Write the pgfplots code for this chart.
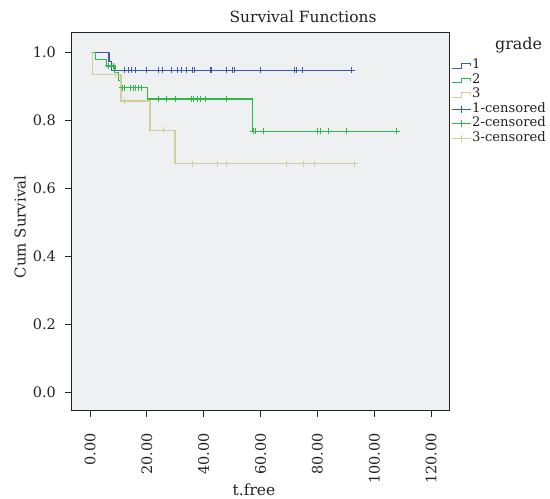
\documentclass[border=0pt]{standalone}
\usepackage{pgfplots}
\pgfplotsset{compat=1.18}
\usepackage{fontspec}
\setmainfont{DejaVu Serif}
\definecolor{c1}{HTML}{3E58AC}
\definecolor{c2}{HTML}{2EB848}
\definecolor{c3}{HTML}{D3CE97}
\definecolor{bg}{HTML}{EFF0F2}
\definecolor{ink}{HTML}{222222}
\begin{document}
\begin{tikzpicture}[x=1bp,y=1bp]
\begin{axis}[
  at={(71bp,88bp)}, anchor=south west,
  scale only axis, width=378bp, height=378bp,
  clip mode=individual,
  xmin=-6.69, xmax=126.3, ymin=-0.055, ymax=1.057,
  xtick={0,20,40,60,80,100,120},
  ytick={0,0.2,0.4,0.6,0.8,1.0},
  tick pos=left, tick align=outside, major tick length=6bp,
  every tick/.style={ink, line width=0.8bp},
  axis line style={ink, line width=1bp},
  axis background/.style={fill=bg},
  /pgf/number format/assume math mode=true,
  xticklabel style={/pgf/number format/.cd, fixed, fixed zerofill, precision=2, /tikz/.cd, rotate=90, anchor=east, inner sep=0bp, font=\fontsize{14.5}{16}\selectfont, text=ink, xshift=-16bp},
  yticklabel style={/pgf/number format/.cd, fixed, fixed zerofill, precision=1, /tikz/.cd, font=\fontsize{14.5}{16}\selectfont, text=ink, inner sep=0bp, xshift=-9bp},
  title={Survival Functions},
  title style={at={(axis description cs:0.614,1)}, anchor=base, yshift=5bp, font=\fontsize{15.5}{17}\selectfont, text=ink},
  xlabel={t.free},
  xlabel style={at={(axis description cs:0.484,0)}, anchor=center, yshift=-79bp, font=\fontsize{15.5}{17}\selectfont, text=ink},
  ylabel={Cum Survival},
  ylabel style={at={(axis description cs:-0.135,0.487)}, anchor=center, font=\fontsize{15}{17}\selectfont, text=ink},
  legend style={at={(axis description cs:1.005,0.93)}, anchor=north west, draw=none, fill=none, inner sep=0bp,
    font=\fontsize{13.2}{15}\selectfont, text=ink, row sep=2.5bp,
    nodes={inner sep=1bp, text height=8bp, text depth=2bp}},
  legend cell align=left,
]
% grade 1
\addplot[c1, line width=1.2bp, const plot, forget plot] coordinates {(0,1.0) (6.7,0.973) (7.6,0.947) (93.0,0.947)};
% grade 2
\addplot[c2, line width=1.2bp, const plot, forget plot] coordinates {(0,1.0) (1.8,0.980) (5.9,0.960) (8.8,0.940) (10.0,0.918) (11.1,0.896) (20.2,0.863) (57.2,0.768) (108.9,0.768)};
% grade 3
\addplot[c3, line width=1.2bp, const plot, forget plot] coordinates {(0,1.0) (0.8,0.935) (10.9,0.857) (21.1,0.771) (29.9,0.673) (93.9,0.673)};
% censored
\addplot[c1, only marks, mark=+, mark size=3bp, mark options={line width=1bp}, forget plot] coordinates {
 (12.3,0.947) (13.7,0.947) (14.7,0.947) (16.1,0.947) (20.0,0.947) (24.0,0.947) (25.5,0.947) (28.8,0.947)
 (30.9,0.947) (32.3,0.947) (34.0,0.947) (36.1,0.947) (36.6,0.947) (42.3,0.947) (42.8,0.947) (48.0,0.947)
 (50.1,0.947) (50.8,0.947) (60.1,0.947) (71.9,0.947) (72.8,0.947) (74.9,0.947) (92.1,0.947)};
\addplot[c2, only marks, mark=+, mark size=3bp, mark options={line width=1bp}, forget plot] coordinates {
 (6.4,0.960) (8.2,0.960)
 (11.4,0.896) (12.3,0.896) (14.1,0.896) (15.2,0.896) (16.1,0.896) (17.0,0.896) (18.0,0.896)
 (24.0,0.863) (27.0,0.863) (29.9,0.863) (35.8,0.863) (36.4,0.863) (37.8,0.863) (39.0,0.863) (40.8,0.863) (48.1,0.863)
 (57.4,0.768) (58.1,0.768) (61.0,0.768) (80.0,0.768) (81.0,0.768) (83.9,0.768) (90.1,0.768) (108.0,0.768)};
\addplot[c3, only marks, mark=+, mark size=3bp, mark options={line width=1bp}, forget plot] coordinates {
 (9.0,0.935) (12.1,0.857) (25.9,0.771)
 (36.0,0.673) (45.0,0.673) (47.9,0.673) (69.0,0.673) (75.1,0.673) (79.0,0.673) (93.1,0.673)};
% legend entries
\addlegendimage{legend image code/.code={\draw[c1, line width=1.1bp] (0bp,-2.5bp) -- (10bp,-2.5bp) -- (10bp,2bp) -- (19bp,2bp) -- (19bp,-0.5bp);}}
\addlegendentry{1}
\addlegendimage{legend image code/.code={\draw[c2, line width=1.1bp] (0bp,-2.5bp) -- (10bp,-2.5bp) -- (10bp,2bp) -- (19bp,2bp) -- (19bp,-0.5bp);}}
\addlegendentry{2}
\addlegendimage{legend image code/.code={\draw[c3, line width=1.1bp] (0bp,-2.5bp) -- (10bp,-2.5bp) -- (10bp,2bp) -- (19bp,2bp) -- (19bp,-0.5bp);}}
\addlegendentry{3}
\addlegendimage{legend image code/.code={\draw[c1, line width=1.1bp] (0bp,0bp) -- (19bp,0bp); \draw[c1, line width=1.1bp] (9.5bp,-3.5bp) -- (9.5bp,3.5bp);}}
\addlegendentry{1-censored}
\addlegendimage{legend image code/.code={\draw[c2, line width=1.1bp] (0bp,0bp) -- (19bp,0bp); \draw[c2, line width=1.1bp] (9.5bp,-3.5bp) -- (9.5bp,3.5bp);}}
\addlegendentry{2-censored}
\addlegendimage{legend image code/.code={\draw[c3, line width=1.1bp] (0bp,0bp) -- (19bp,0bp); \draw[c3, line width=1.1bp] (9.5bp,-3.5bp) -- (9.5bp,3.5bp);}}
\addlegendentry{3-censored}
\node[anchor=center, font=\fontsize{16}{18}\selectfont, text=ink] at (axis description cs:1.184,0.968) {grade};
\end{axis}
\pgfresetboundingbox
\useasboundingbox (0,0) rectangle (550,499);
\end{tikzpicture}
\end{document}
